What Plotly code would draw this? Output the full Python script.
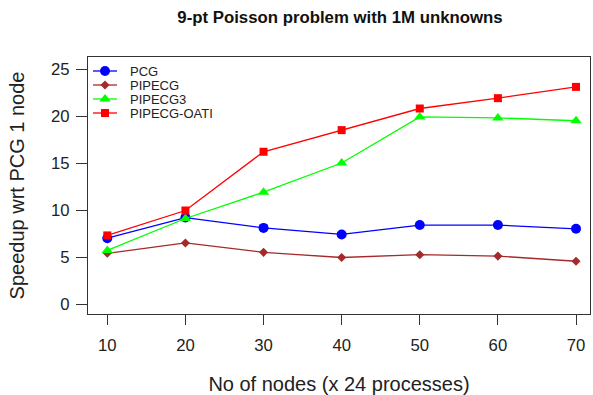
import plotly.graph_objects as go

nodes = [10, 20, 30, 40, 50, 60, 70]
pcg = [7.0, 9.2, 8.1, 7.4, 8.4, 8.4, 8.0]
pipecg = [5.4, 6.5, 5.5, 4.95, 5.25, 5.1, 4.55]
pipecg3 = [5.7, 9.1, 11.9, 15.0, 19.9, 19.8, 19.5]
pipecg_oati = [7.3, 9.95, 16.2, 18.5, 20.8, 21.9, 23.1]
y_ticks = [0, 5, 10, 15, 20, 25]

series = [
    ("PCG", pcg, "#0000FF", "circle", 10),
    ("PIPECG", pipecg, "#A52A2A", "diamond", 7),
    ("PIPECG3", pipecg3, "#00FF00", "triangle-up", 10),
    ("PIPECG-OATI", pipecg_oati, "#FF0000", "square", 8),
]

# plot box in pixels (for placing the legend)
W, H = 593, 395
L, R, T, B = 88, 3, 57, 81
pw, ph = W - L - R, H - T - B

def px_x(p):
    return (p - L) / pw

def px_y(p):
    return (H - B - p) / ph

font = "Liberation Sans, Arial, sans-serif"
fig = go.Figure()
for name, vals, col, sym, sz in series:
    fig.add_trace(go.Scatter(
        x=nodes, y=vals, name=name, mode="lines+markers",
        line=dict(color=col, width=1.3),
        marker=dict(color=col, symbol=sym, size=sz, line=dict(width=0)),
        showlegend=False,
    ))

# manual legend (R-style compact rows)
row_h = 14.0
top_row = 71.0
for i, (name, vals, col, sym, sz) in enumerate(series):
    fig.add_trace(go.Scatter(
        x=[0, 1], y=[-i, -i], mode="lines", xaxis="x2", yaxis="y2",
        line=dict(color=col, width=1.3), showlegend=False, hoverinfo="skip"))
    fig.add_trace(go.Scatter(
        x=[0.5], y=[-i], mode="markers", xaxis="x2", yaxis="y2",
        marker=dict(color=col, symbol=sym, size=sz, line=dict(width=0)),
        showlegend=False, hoverinfo="skip"))
    fig.add_annotation(
        text=name, x=px_x(129), xref="paper", y=-i, yref="y2",
        xanchor="left", yanchor="middle", showarrow=False, borderpad=0,
        font=dict(size=13, color="#222", family=font))

leg_top = top_row - row_h / 2
leg_bot = leg_top + 4 * row_h

axis_common = dict(
    showgrid=False, zeroline=False, automargin=False,
    showline=True, linecolor="#333", linewidth=1.2, mirror=True,
    ticks="outside", tickcolor="#333", tickwidth=1.2,
)

fig.update_layout(
    width=W, height=H,
    margin=dict(l=L, r=R, t=T, b=B),
    paper_bgcolor="white", plot_bgcolor="white",
    font=dict(family=font, size=16.7, color="#222"),
    title=dict(text="<b>9-pt Poisson problem with 1M unknowns</b>",
               x=340 / W, xref="container", xanchor="center",
               y=1 - 17 / H, yref="container", yanchor="middle",
               font=dict(size=16.8, color="#111")),
    showlegend=False,
    xaxis=dict(
        range=[7.53, 71.79], tickvals=nodes, ticktext=[str(n) for n in nodes],
        ticklen=10, ticklabelstandoff=6,
        title=dict(text="No of nodes (x 24 processes)", standoff=25),
        **axis_common),
    yaxis=dict(
        range=[-1.06, 26.28], tickvals=y_ticks,
        ticklen=11, ticklabelstandoff=3,
        title=dict(text="Speedup wrt PCG 1 node", standoff=20),
        **axis_common),
    xaxis2=dict(domain=[px_x(93), px_x(117)], range=[0, 1], visible=False,
                anchor="y2", fixedrange=True),
    yaxis2=dict(domain=[px_y(leg_bot), px_y(leg_top)], range=[-3.5, 0.5],
                visible=False, anchor="x2", fixedrange=True),
)
fig.write_html("out.html")
